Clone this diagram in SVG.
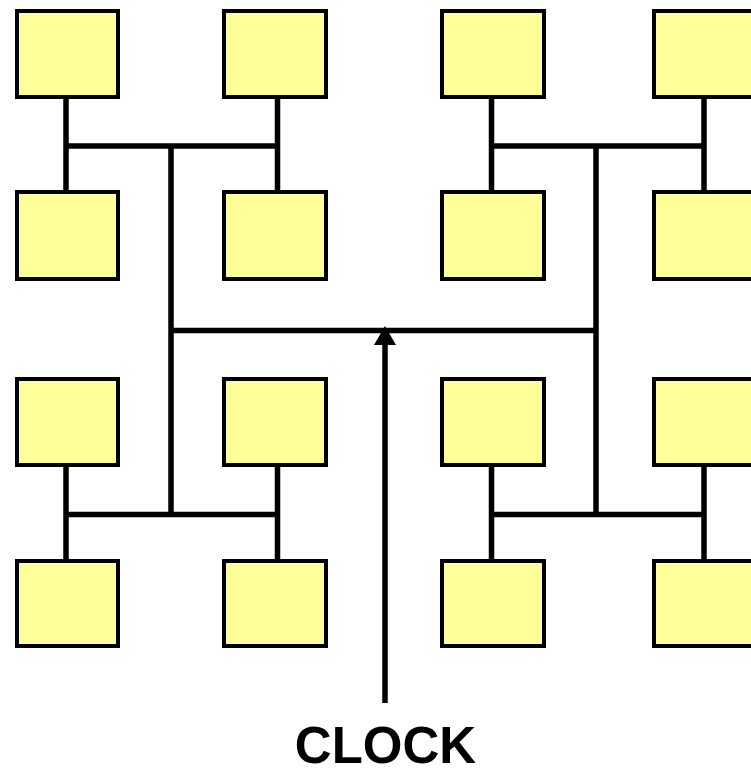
<svg xmlns="http://www.w3.org/2000/svg" width="751" height="768" viewBox="0 0 751 768">
<style>
.box{fill:#FFFF99;stroke:#000;stroke-width:4}
.w{stroke:#000;stroke-width:5.5;fill:none;stroke-linecap:butt}
.lbl{font-family:"Liberation Sans",Arial,sans-serif;font-weight:bold;font-size:51px;fill:#000}
</style>
<defs>
<marker id="ah" markerUnits="userSpaceOnUse" markerWidth="22" markerHeight="20" refX="20" refY="10.5" orient="auto">
<path d="M0,0 L20,10.5 L0,21 Z" fill="#000"/>
</marker>
</defs>
<g id="connectors">
<!-- top-left H -->
<path class="w" d="M66,99 V190 M277.5,99 V190 M66,146 H277.5"/>
<!-- top-right H -->
<path class="w" d="M491.5,99 V190 M704,99 V190 M491.5,146 H704"/>
<!-- bottom-left H -->
<path class="w" d="M66,467 V559 M277.5,467 V559 M66,514.5 H277.5"/>
<!-- bottom-right H -->
<path class="w" d="M491.5,467 V559 M704,467 V559 M491.5,514.5 H704"/>
<!-- central H -->
<path class="w" d="M171,146 V514.5 M596,146 V514.5 M171,330.5 H596"/>
<!-- clock feed -->
<path class="w" d="M385,703 V344"/>
<path d="M385,326 L374,345 L396,345 Z" fill="#000"/>
</g>
<g id="n1"><rect class="box" x="17" y="11" width="101" height="86"/></g>
<g id="n2"><rect class="box" x="224" y="11" width="102" height="86"/></g>
<g id="n3"><rect class="box" x="442" y="11" width="102" height="86"/></g>
<g id="n4"><rect class="box" x="654" y="11" width="102" height="86"/></g>
<g id="n5"><rect class="box" x="17" y="192" width="101" height="87"/></g>
<g id="n6"><rect class="box" x="224" y="192" width="102" height="87"/></g>
<g id="n7"><rect class="box" x="442" y="192" width="102" height="87"/></g>
<g id="n8"><rect class="box" x="654" y="192" width="102" height="87"/></g>
<g id="n9"><rect class="box" x="17" y="379" width="101" height="86"/></g>
<g id="n10"><rect class="box" x="224" y="379" width="102" height="86"/></g>
<g id="n11"><rect class="box" x="442" y="379" width="102" height="86"/></g>
<g id="n12"><rect class="box" x="654" y="379" width="102" height="86"/></g>
<g id="n13"><rect class="box" x="17" y="561" width="101" height="85"/></g>
<g id="n14"><rect class="box" x="224" y="561" width="102" height="85"/></g>
<g id="n15"><rect class="box" x="442" y="561" width="102" height="85"/></g>
<g id="n16"><rect class="box" x="654" y="561" width="102" height="85"/></g>
<g id="clock-label"><text class="lbl" x="385.5" y="763" text-anchor="middle">CLOCK</text></g>
</svg>
